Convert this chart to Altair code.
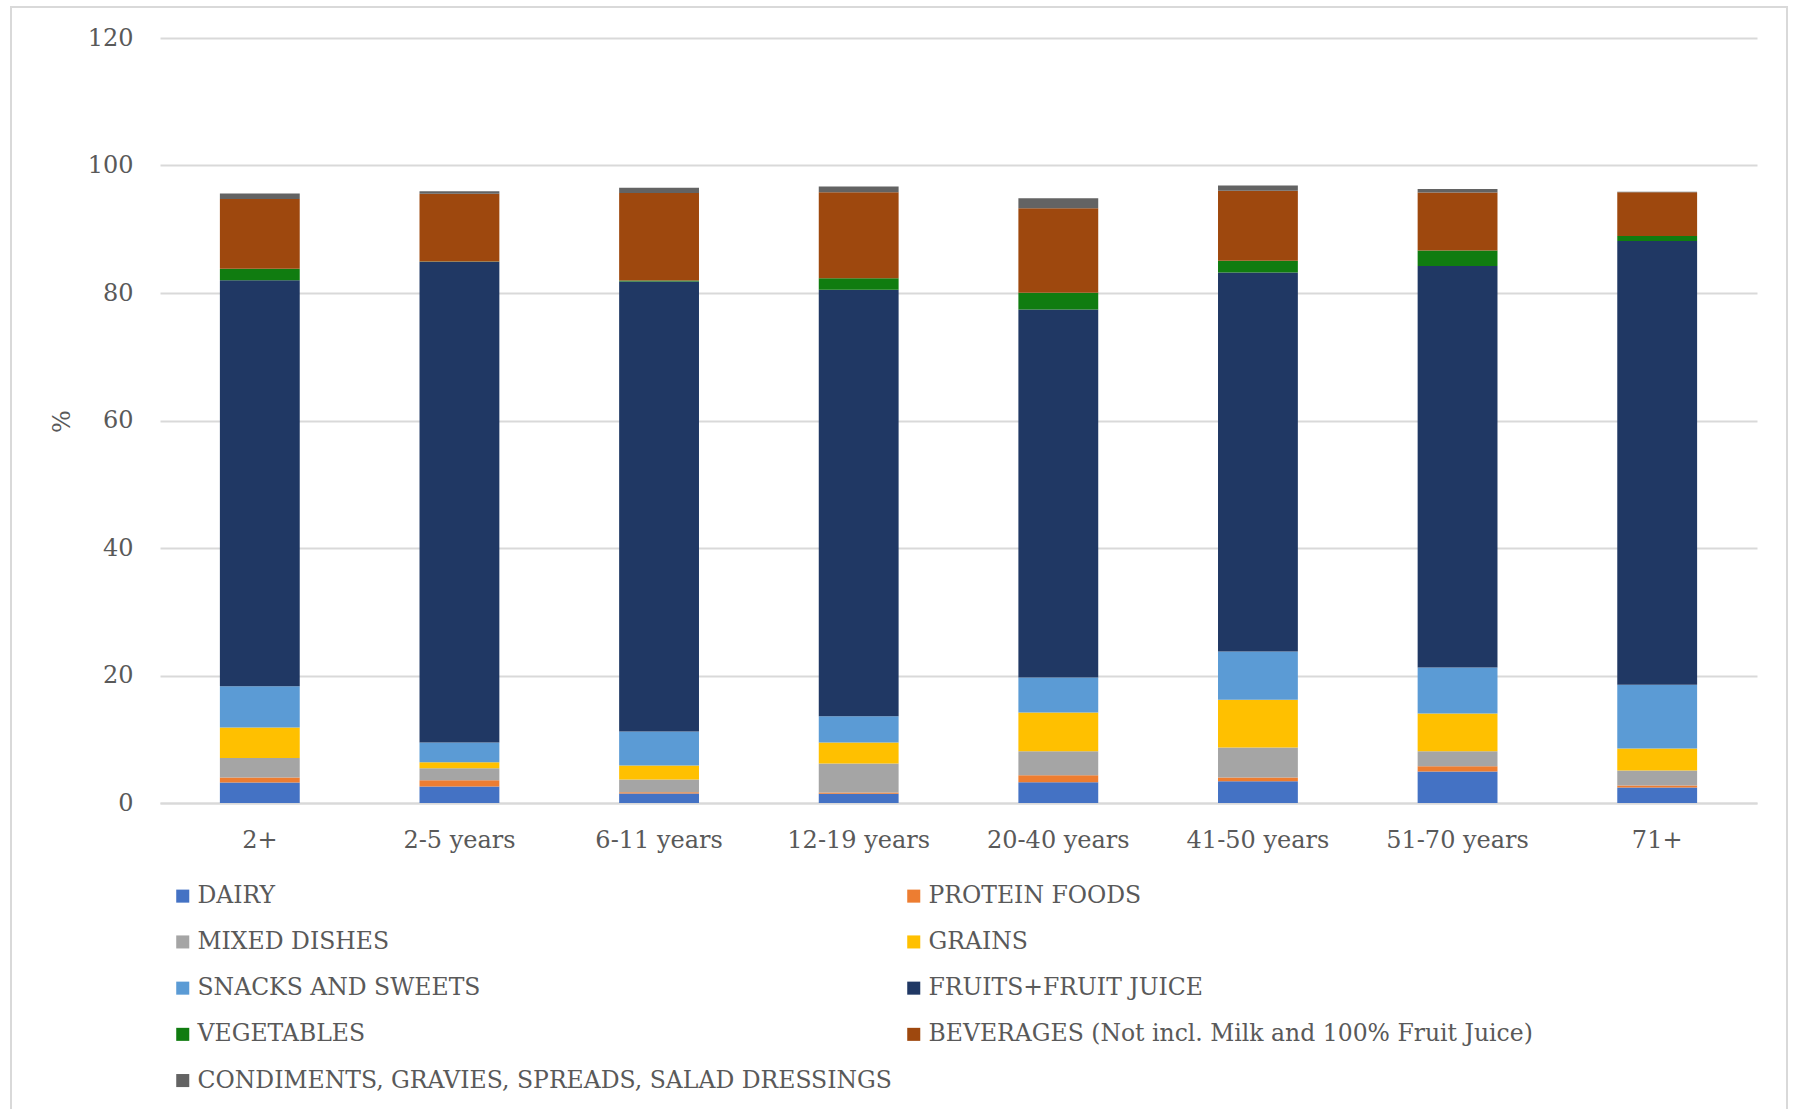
import altair as alt
import pandas as pd

groups = ["2+", "2-5 years", "6-11 years", "12-19 years", "20-40 years",
          "41-50 years", "51-70 years", "71+"]
categories = ["DAIRY", "PROTEIN FOODS", "MIXED DISHES", "GRAINS", "SNACKS AND SWEETS",
              "FRUITS+FRUIT JUICE", "VEGETABLES",
              "BEVERAGES (Not incl. Milk and 100% Fruit Juice)",
              "CONDIMENTS, GRAVIES, SPREADS, SALAD DRESSINGS"]
colors = ["#4472C4", "#ED7D31", "#A5A5A5", "#FFC000", "#5B9BD5",
          "#203864", "#107C10", "#9E480E", "#636363"]

dairy = [3.2, 2.6, 1.5, 1.45, 3.25, 3.4, 4.95, 2.45]
protein = [0.8, 0.95, 0.2, 0.2, 1.1, 0.6, 0.8, 0.3]
mixed = [3.05, 1.9, 2.0, 4.55, 3.75, 4.7, 2.35, 2.35]
grains = [4.8, 0.95, 2.2, 3.3, 6.1, 7.5, 5.95, 3.45]
snacks = [6.45, 3.1, 5.3, 4.1, 5.5, 7.55, 7.2, 10.0]
fruits = [63.7, 75.4, 70.6, 66.9, 57.7, 59.45, 63.0, 69.6]
vegetables = [1.8, 0.05, 0.15, 1.8, 2.65, 1.85, 2.4, 0.8]
beverages = [10.95, 10.6, 13.75, 13.5, 13.25, 11.0, 9.1, 6.85]
condiments = [0.85, 0.4, 0.8, 0.9, 1.55, 0.8, 0.55, 0.1]

series = [dairy, protein, mixed, grains, snacks, fruits, vegetables, beverages, condiments]
rows = []
for ci, (cat, vals) in enumerate(zip(categories, series)):
    for g, v in zip(groups, vals):
        rows.append({"group": g, "category": cat, "value": v, "idx": ci})
df = pd.DataFrame(rows)

FONT = "DejaVu Serif"
TXT = "#595959"

bars = alt.Chart(df).mark_bar().encode(
    x=alt.X("group:N", sort=groups, title=None,
            scale=alt.Scale(paddingInner=0.6, paddingOuter=0.3),
            axis=alt.Axis(labelAngle=0, ticks=False, grid=False, domainColor="#d9d9d9",
                          domainWidth=2, labelPadding=25, labelFont=FONT, labelFontSize=24,
                          labelColor=TXT)),
    y=alt.Y("value:Q", title="%", stack="zero",
            scale=alt.Scale(domain=[0, 120], nice=False),
            axis=alt.Axis(values=[0, 20, 40, 60, 80, 100, 120], domain=False, ticks=False,
                          gridColor="#d9d9d9", gridWidth=2, labelPadding=27,
                          labelFont=FONT, labelFontSize=24, labelColor=TXT,
                          titleFont=FONT, titleFontSize=24, titleColor=TXT,
                          titleFontWeight="normal", titleX=-86, titleY=383)),
    color=alt.Color("category:N", sort=categories,
                    scale=alt.Scale(domain=categories, range=colors),
                    legend=alt.Legend(title=None, orient="none", legendX=11, legendY=846,
                                      columns=2, direction="horizontal",
                                      symbolType="square", symbolSize=170,
                                      symbolStrokeWidth=0,
                                      labelFont=FONT, labelFontSize=23.5, labelColor=TXT,
                                      labelLimit=900, labelOffset=3,
                                      rowPadding=21.2, columnPadding=10)),
    order=alt.Order("idx:Q", sort="ascending"),
)

border = alt.Chart(pd.DataFrame({"a": [0]})).mark_rect(
    fill=None, stroke="#d9d9d9", strokeWidth=2
).encode(
    x=alt.value(-149), x2=alt.value(1627), y=alt.value(-31), y2=alt.value(1090)
)

chart = alt.layer(bars, border).properties(
    width=1597, height=765,
    background="white",
    autosize=alt.AutoSizeParams(type="none"),
    padding={"left": 160, "top": 38, "right": 39, "bottom": 306},
).configure_view(strokeWidth=0)

chart.save("out.html", embed_options={"renderer": "svg", "actions": False})
